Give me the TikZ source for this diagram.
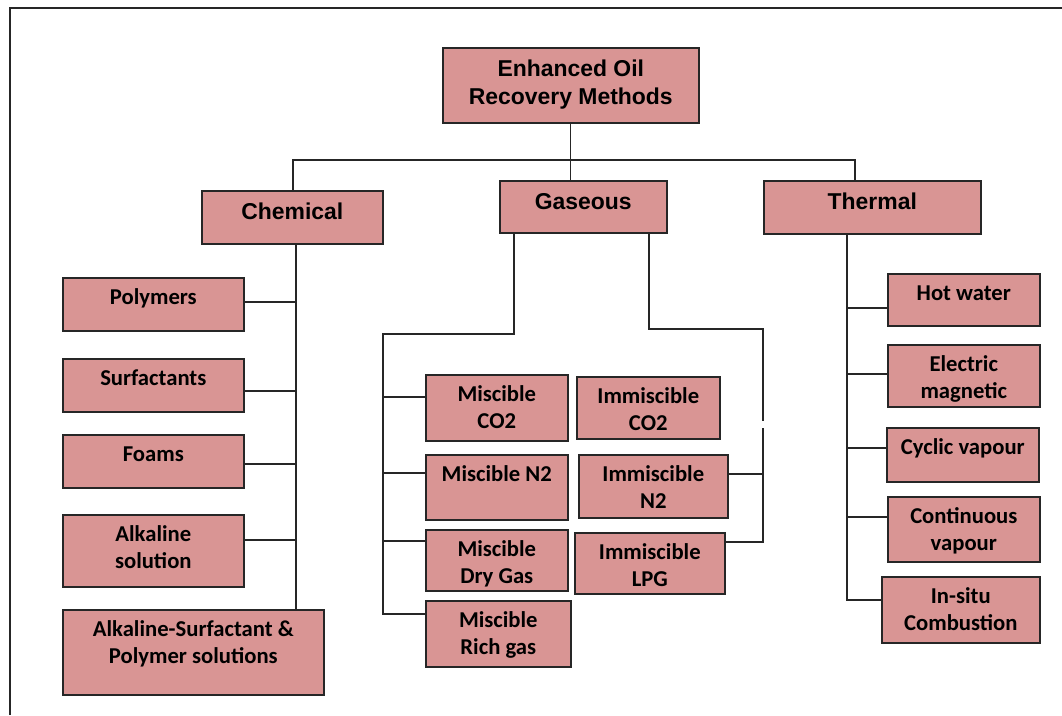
\documentclass[tikz,border=0pt]{standalone}
\usepackage{fontspec}
\usepackage{tikz}
\usetikzlibrary{calc}
\newfontfamily\headfont{Liberation Sans}
\newfontfamily\leaffont{Carlito}
\definecolor{eorpink}{RGB}{217,149,148}
\newlength{\pxu}\setlength{\pxu}{0.75pt}
\newlength{\cellpad}
% box of given width/height (px), text set from the top
\newcommand{\cell}[3]{\parbox[c][#2\pxu][t]{#1\pxu}{\centering\vspace*{\cellpad}\strut#3}}

\begin{document}
\begin{tikzpicture}[x=0.75pt, y=-0.75pt,
    head/.style={draw=black!85, fill=eorpink, line width=1.2pt, inner sep=0pt, anchor=north west,
      font={\headfont\bfseries\fontsize{17.2pt}{21pt}\selectfont\setlength{\cellpad}{6.7pt}}},
    leaf/.style={head, font={\leaffont\bfseries\fontsize{17pt}{20.5pt}\selectfont\setlength{\cellpad}{5.5pt}}},
    link/.style={line width=0.9pt, draw=black!85}]
  \useasboundingbox (0,0) rectangle (1062,715);
  \draw[line width=1.2pt, black!85] (10,715) -- (10,8) -- (1062,8);
  % main groups
  \node[head] (root) at (442,47) {\cell{256}{75}{Enhanced Oil\\Recovery Methods}};
  \node[head] (chem) at (201,190) {\cell{181}{53}{Chemical}};
  \node[head] (gas) at (499,180) {\cell{167}{52}{Gaseous}};
  \node[head] (therm) at (763,180) {\cell{217}{53}{Thermal}};
  % chemical
  \node[leaf] (poly) at (62,277) {\cell{181}{53}{Polymers}};
  \node[leaf] (surf) at (62,358) {\cell{181}{53}{Surfactants}};
  \node[leaf] (foam) at (62,434) {\cell{181}{53}{Foams}};
  \node[leaf] (alk) at (62,514) {\cell{181}{72}{Alkaline\\solution}};
  \node[leaf] (asp) at (62,609) {\cell{261}{85}{Alkaline-Surfactant \&\\Polymer solutions}};
  % gaseous
  \node[leaf] (mco2) at (425,374) {\cell{142}{66}{Miscible\\CO2}};
  \node[leaf] (mn2) at (425,454) {\cell{142}{65}{Miscible N2}};
  \node[leaf] (mdry) at (425,529) {\cell{142}{61}{Miscible\\Dry Gas}};
  \node[leaf] (mrich) at (425,600) {\cell{145}{66}{Miscible\\Rich gas}};
  \node[leaf] (ico2) at (576,376) {\cell{143}{62}{Immiscible\\CO2}};
  \node[leaf] (in2) at (578,454) {\cell{149}{63}{Immiscible\\N2}};
  \node[leaf] (ilpg) at (574,532) {\cell{150}{61}{Immiscible\\LPG}};
  % thermal
  \node[leaf] (hot) at (887,273) {\cell{152}{52}{Hot water}};
  \node[leaf] (elec) at (887,344) {\cell{152}{62}{Electric\\magnetic}};
  \node[leaf] (cyc) at (886,427) {\cell{152}{54}{Cyclic vapour}};
  \node[leaf] (cont) at (887,496) {\cell{152}{65}{Continuous\\vapour}};
  \node[leaf] (insitu) at (881,576) {\cell{158}{66}{In-situ\\Combustion}};
  % tap points on the boxes
  \foreach \n/\dy in {poly/25,surf/33,foam/30,alk/26}
    \coordinate (\n-tap) at ($(\n.north east)+(0,\dy)$);
  \foreach \n/\dy in {mco2/23,mn2/19,mdry/12,mrich/14,hot/35,elec/30,cyc/21,cont/21,insitu/24}
    \coordinate (\n-tap) at ($(\n.north west)+(0,\dy)$);
  \coordinate (in2-tap) at ($(in2.north east)+(0,20)$);
  \coordinate (ilpg-tap) at ($(ilpg.north east)+(0,10)$);
  % top level
  \coordinate (busl) at (293,160);
  \coordinate (busr) at (855,160);
  \draw[link] (root.south) -- (root.south |- gas.north);
  \draw[link] (chem.north -| busl) -- (busl) -- (busr) -- (therm.north -| busr);
  % chemical branch
  \coordinate (ctr) at (296,0);
  \draw[link] (chem.south -| ctr) -- (asp.north -| ctr);
  \foreach \n in {poly,surf,foam,alk}
    \draw[link] (\n-tap) -- (\n-tap -| ctr);
  % gaseous branch
  \coordinate (gdl) at (514,0);
  \coordinate (gl) at (383,334);
  \draw[link] (gas.south -| gdl) |- (gl) |- (mrich-tap);
  \foreach \n in {mco2,mn2,mdry}
    \draw[link] (\n-tap -| gl) -- (\n-tap);
  \coordinate (gdr) at (649,0);
  \coordinate (gr) at (763,329);
  \coordinate (gapa) at (0,421);
  \coordinate (gapb) at (0,428);
  \draw[link] (gas.south -| gdr) |- (gr) -- (gr |- gapa);
  \draw[link] (gr |- gapb) |- (ilpg-tap);
  \draw[link] (in2-tap) -- (in2-tap -| gr);
  % thermal branch
  \coordinate (tt) at (847,0);
  \draw[link] (therm.south -| tt) |- (insitu-tap);
  \foreach \n in {hot,elec,cyc,cont}
    \draw[link] (\n-tap -| tt) -- (\n-tap);
\end{tikzpicture}
\end{document}
